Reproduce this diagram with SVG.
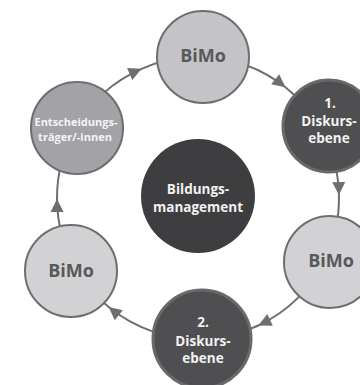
<svg xmlns="http://www.w3.org/2000/svg" width="360" height="385" viewBox="0 0 360 385">
<style>
.conn{fill:none;stroke:#6d6e70;stroke-width:2;marker-mid:url(#arr)}
.light{fill:#d2d2d4;stroke:#6d6e70;stroke-width:2}
.top{fill:#c4c4c8;stroke:#6d6e70;stroke-width:2}
.mid{fill:#a3a3a7;stroke:#6d6e70;stroke-width:2}
.dark{fill:#4f4f51;stroke:#69696b;stroke-width:3}
.core{fill:#3e3e40}
text{font-family:"Open Sans","Noto Sans","Liberation Sans",sans-serif;font-weight:bold;text-anchor:middle}
.bimo{font-size:18px;fill:#58595b}
.w{font-size:13.5px;fill:#f2f2f2}
.s{font-size:11px;fill:#f4f4f4}
</style>
<defs>
<marker id="arr" viewBox="-14 -8 16 16" refX="0" refY="0" markerWidth="16" markerHeight="16" markerUnits="userSpaceOnUse" orient="auto">
<path d="M0,0 L-13,-6.5 L-13,6.5 Z" fill="#6d6e70"/>
</marker>
</defs>
<g id="connectors">
<path class="conn" d="M202.9,57.1 A141,141 0 0 1 285.4,87.3 A141,141 0 0 1 322.3,131.4"/>
<path class="conn" d="M322.3,131.4 A141,141 0 0 1 338.97,195.05 A141,141 0 0 1 324.8,259.6"/>
<path class="conn" d="M324.8,259.6 A141,141 0 0 1 258.3,325.5 A141,141 0 0 1 201.9,338.9"/>
<path class="conn" d="M201.9,338.9 A141,141 0 0 1 108.7,307.1 A141,141 0 0 1 75.9,268.5"/>
<path class="conn" d="M75.9,268.5 A141,141 0 0 1 57.0,199.0 A141,141 0 0 1 75.9,127.5"/>
<path class="conn" d="M75.9,127.5 A141,141 0 0 1 141.6,68.8 A141,141 0 0 1 202.9,57.1"/>
</g>
<g id="center">
<circle class="core" cx="198" cy="196" r="57"/>
<text class="w" x="198" y="194">Bildungs-</text>
<text class="w" x="198" y="212">management</text>
</g>
<g id="bimo-top">
<circle class="top" cx="203" cy="57" r="46"/>
<text class="bimo" x="203" y="62">BiMo</text>
</g>
<g id="diskurs1">
<circle class="dark" cx="329" cy="126" r="46"/>
<text class="w" x="330" y="108">1.</text>
<text class="w" x="329" y="126">Diskurs-</text>
<text class="w" x="329" y="143">ebene</text>
</g>
<g id="bimo-right">
<circle class="light" cx="330" cy="262" r="46"/>
<text class="bimo" x="331" y="267">BiMo</text>
</g>
<g id="diskurs2">
<circle class="dark" cx="202" cy="339" r="49"/>
<text class="w" x="203" y="327">2.</text>
<text class="w" x="203" y="346">Diskurs-</text>
<text class="w" x="203" y="363">ebene</text>
</g>
<g id="bimo-left">
<circle class="light" cx="71" cy="271" r="46"/>
<text class="bimo" x="71" y="277">BiMo</text>
</g>
<g id="entscheidung">
<circle class="mid" cx="77" cy="128" r="46"/>
<text class="s" x="76" y="126">Entscheidungs-</text>
<text class="s" x="75" y="141">träger/-innen</text>
</g>
</svg>
